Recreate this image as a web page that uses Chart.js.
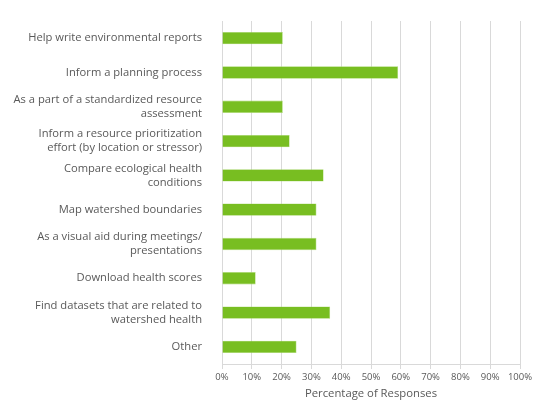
<!DOCTYPE html>
<html>
<head>
<meta charset="utf-8">
<script src="https://cdn.jsdelivr.net/npm/chart.js@4/dist/chart.umd.min.js"></script>
<style>
  html, body { margin: 0; padding: 0; background: #ffffff; }
  #wrap { width: 540px; height: 413px; position: relative; }
</style>
</head>
<body>
<div id="wrap"><canvas id="c"></canvas></div>
<script>
const categories = [
  ["Help write environmental reports"],
  ["Inform a planning process"],
  ["As a part of a standardized resource", "assessment"],
  ["Inform a resource prioritization", "effort (by location or stressor)"],
  ["Compare ecological health", "conditions"],
  ["Map watershed boundaries"],
  ["As a visual aid during meetings/", "presentations"],
  ["Download health scores"],
  ["Find datasets that are related to", "watershed health"],
  ["Other"]
];
const percentages = [20.4, 59.1, 20.4, 22.7, 34.1, 31.7, 31.7, 11.3, 36.3, 25.0];
const xTickValues = [0, 10, 20, 30, 40, 50, 60, 70, 80, 90, 100];
const xTitle = "Percentage of Responses";

const FONT = "'Open Sans', 'Noto Sans', sans-serif";
const TEXT = "#595959";

new Chart(document.getElementById('c'), {
  type: 'bar',
  data: {
    labels: categories,
    datasets: [{
      data: percentages,
      backgroundColor: '#78BE21',
      borderColor: '#A9D86E',
      borderWidth: 0.6,
      barPercentage: 0.36,
      categoryPercentage: 1.0
    }]
  },
  options: {
    indexAxis: 'y',
    responsive: true,
    maintainAspectRatio: false,
    animation: false,
    layout: { padding: { top: 21, right: 20, bottom: 12, left: 0 } },
    plugins: { legend: { display: false }, tooltip: { enabled: false } },
    scales: {
      x: {
        min: 0, max: 100,
        afterBuildTicks: (axis) => { axis.ticks = xTickValues.map(v => ({ value: v })); },
        ticks: {
          callback: (v) => v + '%',
          color: TEXT,
          font: { family: FONT, size: 9.5 },
          padding: 3,
          maxRotation: 0
        },
        grid: { color: '#D9D9D9', lineWidth: 1, drawTicks: true, tickLength: 5 },
        border: { display: true, color: '#D9D9D9' },
        title: {
          display: true,
          text: xTitle,
          color: TEXT,
          font: { family: FONT, size: 11.3 },
          padding: { top: 1, bottom: 0 }
        }
      },
      y: {
        afterFit: (axis) => { axis.width = 222; },
        ticks: {
          color: TEXT,
          font: { family: FONT, size: 11.2, lineHeight: 1.25 },
          padding: 12,
          autoSkip: false
        },
        grid: { display: false },
        border: { display: false }
      }
    }
  }
});
</script>
</body>
</html>
